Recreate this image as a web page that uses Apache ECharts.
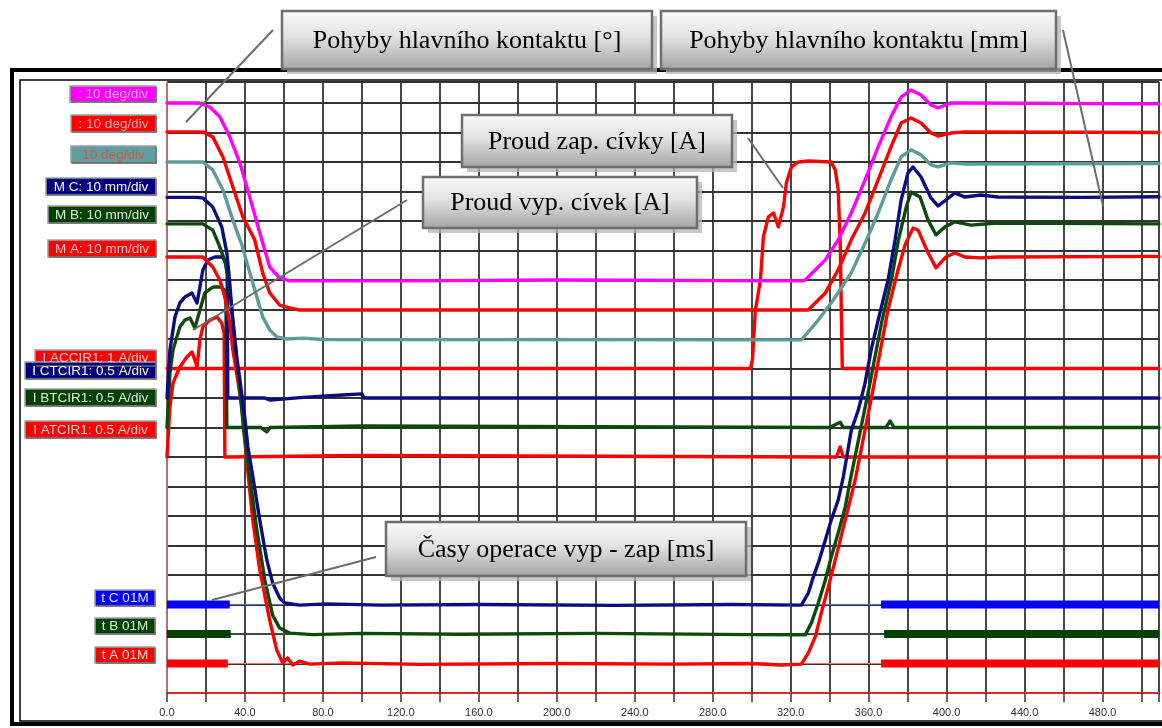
<!DOCTYPE html>
<html>
<head>
<meta charset="utf-8">
<script src="https://cdn.jsdelivr.net/npm/echarts@6/dist/echarts.min.js"></script>
<style>
html,body{margin:0;padding:0;background:#fff;}
#chart{width:1162px;height:728px;}
</style>
</head>
<body>
<div id="chart"></div>
<script>
// Breaker operation record: time in ms, every channel in screen divisions.

const timeLabels = [0, 40, 80, 120, 160, 200, 240, 280, 320, 360, 400, 440, 480];

// Main contact travel, angle channels (10 deg/div)
const angleMagenta = [[0,20.0],[16.9,20.0],[22,19.86],[27.1,19.53],[32.2,18.85],[37.4,17.97],[42.5,16.8],[47.6,15.6],[52.7,14.44],[57.8,14.07],[63,13.97],[120,13.97],[200,14.0],[326,13.97],[327.5,14.0],[337.8,14.68],[344.4,15.36],[351.1,16.27],[358.2,17.39],[364.9,18.51],[371.5,19.53],[376.7,20.2],[381.8,20.44],[386.9,20.27],[392,19.93],[395.6,19.83],[402.3,20.0],[409.4,20.0],[509,19.97]];
const angleRed = [[0,19.02],[18.4,19.02],[23.5,18.85],[28.7,18.17],[33.8,17.15],[38.9,16.14],[45,15.36],[49.1,14.24],[52.7,13.56],[57.8,13.15],[63,13.05],[68,12.98],[329,12.98],[337.8,13.56],[344.4,14.34],[351.1,15.36],[358.2,16.27],[364.9,17.39],[371.5,18.51],[376.7,19.32],[381.8,19.49],[386.9,19.32],[392,18.98],[395.6,18.88],[402.3,18.98],[409.4,19.02],[509,19.0]];
const angleTeal = [[0,18.0],[18.4,18.0],[23.5,17.73],[28.7,17.05],[33.8,16.03],[38.4,15.19],[42.5,14.24],[46.1,13.42],[49.1,12.75],[52.7,12.31],[56.3,12.07],[61.4,12.0],[70,12.03],[80,11.98],[325.5,11.97],[334.2,12.64],[341.9,13.32],[351.1,14.24],[358.2,15.25],[364.9,16.27],[371.5,17.39],[376.7,18.17],[381.8,18.41],[386.9,18.24],[392,17.9],[395.6,17.83],[402.3,17.97],[409.4,17.93],[509,17.95]];

// Main contact travel, stroke channels (10 mm/div)
const strokeC = [[0,16.8],[15.4,16.8],[18.4,16.78],[23.5,16.47],[28.1,15.8],[30.7,14.92],[32.2,13.9],[33.3,12.9],[35.8,11.39],[37.4,10.61],[39.9,9.36],[41.5,8.34],[43.5,7.56],[47.6,5.86],[51.2,4.51],[54.2,3.73],[57.8,3.22],[60.4,3.05],[68,2.98],[82,3.02],[110,2.98],[160,3.0],[230,2.97],[290,3.0],[325.5,2.98],[329.1,3.39],[331.6,3.93],[334.2,4.41],[337.8,5.19],[340.8,5.86],[344.4,6.54],[347,7.32],[351.1,8.9],[354.7,9.59],[358.2,10.51],[361.3,11.63],[364.9,12.64],[370,14.0],[373.6,15.36],[376.7,16.71],[380.2,17.63],[382.8,17.83],[386.9,17.49],[392,16.78],[395.6,16.51],[399.7,16.71],[404.3,16.95],[409.4,16.81],[417.6,16.88],[426.3,16.81],[470,16.8],[509,16.82]];
const strokeB = [[0,15.9],[18.4,15.9],[23.5,15.69],[27.1,15.12],[30.7,14.44],[32.8,13.32],[35.3,11.63],[37.4,10.27],[39.4,8.92],[42,7.56],[46.1,5.53],[50.2,3.83],[54.2,2.64],[57.8,2.2],[63,2.03],[75,1.98],[100,2.02],[150,1.99],[220,2.02],[300,1.98],[327.5,1.97],[330.6,2.37],[334.2,3.05],[337.8,3.83],[340.8,4.61],[344.4,5.42],[348,6.3],[350.6,7.22],[359.8,10.2],[366.8,12.6],[371.7,14.0],[375.3,15.36],[379.3,16.47],[381.8,16.98],[386.4,16.81],[390.5,16.03],[394.6,15.53],[399.2,15.8],[404.3,15.97],[412.5,15.86],[426.3,15.93],[509,15.9]];
const strokeA = [[0,14.78],[18.4,14.78],[23.5,14.44],[27.1,14.0],[29.7,13.42],[32.2,12.54],[33.8,11.63],[36.3,10.61],[38.4,9.69],[39.9,8.58],[41.5,7.49],[44,5.86],[47.6,4.17],[52.7,2.47],[56.3,1.46],[59.4,1.02],[61.9,1.19],[64.5,0.95],[68,1.08],[73.2,0.98],[90,1.02],[130,0.97],[200,1.0],[260,0.98],[300,1.0],[315,0.95],[325.5,0.98],[329.1,1.36],[332.6,1.9],[335.7,2.71],[339.3,3.59],[342.9,4.51],[348,5.86],[353.1,7.22],[362,10.2],[370,13.0],[375.1,14.34],[378.7,15.19],[382.8,15.76],[385.4,15.69],[390.5,14.92],[394.6,14.41],[399.7,14.78],[404.3,14.92],[409.4,14.78],[417.6,14.75],[426.3,14.78],[509,14.8]];

// Trip coil currents (0.5 A/div) and closing coil current (1 A/div)
const coilC = [[0,10.0],[1.5,11.63],[4.1,12.75],[6.6,13.22],[9.2,13.42],[12.8,13.56],[15.4,13.22],[16.9,13.76],[18.4,14.34],[21,14.68],[24.6,14.78],[28.1,14.78],[29.7,14.68],[30.9,14.2],[31.2,10.0],[50,10.0],[53,9.93],[70,10.02],[90,10.1],[100,10.14],[101,10.0],[200,10.0],[509,10.0]];
const coilB = [[0,9.0],[1.5,10.85],[3.1,11.63],[6.6,12.41],[9.2,12.64],[11.8,12.71],[14.3,12.37],[16.9,12.98],[19.4,13.56],[23.5,13.76],[28.1,13.76],[30.2,13.6],[30.7,9.0],[48,9.0],[51.2,8.85],[53,9.0],[100,9.05],[101,9.0],[340,9.0],[345.4,9.18],[347,9.0],[369,9.0],[371,9.22],[373,9.0],[509,9.0]];
const coilA = [[0,8.0],[1.5,9.69],[3.1,10.51],[6.6,11.05],[10.2,11.39],[12.8,11.56],[14.3,11.29],[15.4,11.05],[16.9,11.97],[18.4,12.41],[22,12.64],[25.6,12.75],[28.1,12.54],[29.3,12.2],[29.7,8.0],[100,8.05],[101,8.0],[343.5,8.0],[345.4,8.34],[347,8.0],[509,8.0]];
const closeCoil = [[0,11.0],[299.4,11.0],[300.4,11.3],[301.9,12.98],[302.5,13.2],[304.5,14.0],[306,15.46],[308.6,16.14],[311.2,16.27],[313.7,15.8],[316.3,16.47],[317.8,17.29],[320.4,17.83],[324,18.0],[329.1,18.03],[340.8,18.0],[342.9,17.73],[344.4,17.05],[345.5,15.12],[346,12.88],[346.5,11.0],[509,11.0]];

// Auxiliary timing contacts: level in div, closed intervals in ms
const timeCLevel = 3.0, timeCOn = [[0, 32.2], [366.4, 509]];
const timeBLevel = 2.0, timeBOn = [[0, 32.7], [368, 509]];
const timeALevel = 1.0, timeAOn = [[0, 31.2], [366.4, 509]];

const X_MAX = 509, Y_MAX = 20.71;
const TRACE_W = 3.4;

function trace(name, data, color, width) {
  return {
    type: 'line', name: name, data: data, showSymbol: false, symbol: 'none',
    lineStyle: { color: color, width: width, cap: 'round', join: 'round' },
    itemStyle: { color: color }, silent: true, animation: false
  };
}

function timing(name, level, spans, thinColor, color) {
  const list = [trace(name, [[0, level], [X_MAX, level]], thinColor, 1)];
  spans.forEach(function (s) {
    const t = trace(name, [[s[0], level], [s[1], level]], color, 8);
    t.lineStyle.cap = 'butt';
    list.push(t);
  });
  return list;
}

const series = []
  .concat(timing('t C 01M', timeCLevel, timeCOn, '#5a6cff', '#0000ff'))
  .concat(timing('t B 01M', timeBLevel, timeBOn, '#3d6b3d', '#004000'))
  .concat(timing('t A 01M', timeALevel, timeAOn, '#ff7070', '#ff0000'))
  .concat([
    trace('I ACCIR1', closeCoil, '#ff0000', TRACE_W),
    trace('I ATCIR1', coilA, '#ff0000', TRACE_W),
    trace('I BTCIR1', coilB, '#0b4a0b', TRACE_W),
    trace('I CTCIR1', coilC, '#0c0c80', TRACE_W),
    trace('M A', strokeA, '#ff0000', TRACE_W),
    trace('M B', strokeB, '#0b4a0b', TRACE_W),
    trace('M C', strokeC, '#0c0c80', TRACE_W),
    trace('deg teal', angleTeal, '#5c9c9a', TRACE_W),
    trace('deg red', angleRed, '#ff0000', TRACE_W),
    trace('deg magenta', angleMagenta, '#ff00ff', TRACE_W)
  ]);

// Channel tags on the left margin
const tags = [
  { x: 70, y: 86, w: 86, h: 16, fill: '#ff00ff', color: '#ffb4ff', text: ': 10 deg/div' },
  { x: 71, y: 115, w: 85, h: 17, fill: '#ff0000', color: '#ffa8a8', text: ': 10 deg/div' },
  { x: 71, y: 146, w: 85, h: 17, fill: '#5f9e9c', color: '#c85858', text: '10 deg/div' },
  { x: 46, y: 178, w: 110, h: 17, fill: '#000080', color: '#ffffd8', text: 'M C: 10 mm/div' },
  { x: 48, y: 206, w: 108, h: 17, fill: '#004000', color: '#dcecdc', text: 'M B: 10 mm/div' },
  { x: 48, y: 240, w: 108, h: 17, fill: '#ff0000', color: '#ffc8c8', text: 'M A: 10 mm/div' },
  { x: 35, y: 350, w: 121, h: 16, fill: '#ff0000', color: '#ffc8c8', text: 'I ACCIR1: 1 A/div' },
  { x: 25, y: 362, w: 131, h: 17, fill: '#000080', color: '#ffffd8', text: 'I CTCIR1: 0.5 A/div' },
  { x: 25, y: 389, w: 131, h: 17, fill: '#004000', color: '#e0f0e0', text: 'I BTCIR1: 0.5 A/div' },
  { x: 25, y: 421, w: 131, h: 17, fill: '#ff0000', color: '#ffd0d0', text: 'I ATCIR1: 0.5 A/div' },
  { x: 95, y: 590, w: 60, h: 16, fill: '#0000ff', color: '#e4e4ff', text: 't C 01M' },
  { x: 95, y: 618, w: 60, h: 16, fill: '#004000', color: '#e0f0e0', text: 't B 01M' },
  { x: 95, y: 647, w: 60, h: 16, fill: '#ff0000', color: '#ffe0e0', text: 't A 01M' }
];

// Callouts: box and leader line end points
const callouts = [
  { x: 282, y: 11, w: 370, h: 58, text: 'Pohyby hlavního kontaktu [°]', line: [273, 30, 186, 122] },
  { x: 661, y: 11, w: 395, h: 58, text: 'Pohyby hlavního kontaktu [mm]', line: [1063, 30, 1103, 206] },
  { x: 462, y: 115, w: 270, h: 52, text: 'Proud zap. cívky [A]', line: [748, 138, 783, 188] },
  { x: 423, y: 177, w: 274, h: 51, text: 'Proud vyp. cívek [A]', line: [407, 200, 193, 330] },
  { x: 386, y: 522, w: 360, h: 54, text: 'Časy operace vyp - zap [ms]', line: [376, 557, 212, 600] }
];

const graphics = [];
// double frame
graphics.push({ type: 'rect', z: 50, silent: true, shape: { x: 12, y: 70, width: 1170, height: 654 }, style: { fill: 'none', stroke: '#000', lineWidth: 4 } });
graphics.push({ type: 'rect', z: 50, silent: true, shape: { x: 20, y: 80, width: 1160, height: 641 }, style: { fill: 'none', stroke: '#000', lineWidth: 1.5 } });

tags.forEach(function (t) {
  graphics.push({ type: 'rect', z: 60, silent: true, shape: { x: t.x, y: t.y, width: t.w, height: t.h }, style: { fill: t.fill, stroke: '#a0a0a0', lineWidth: 1.5 } });
  graphics.push({ type: 'polyline', z: 61, silent: true, shape: { points: [[t.x + 1, t.y + t.h], [t.x + t.w, t.y + t.h], [t.x + t.w, t.y + 1]] }, style: { stroke: '#6a6a6a', lineWidth: 1.5, fill: null } });
  graphics.push({ type: 'text', z: 62, silent: true, x: t.x + t.w / 2, y: t.y + t.h / 2 + 0.5,
    style: { text: t.text, fill: t.color, font: '13.5px "Liberation Sans", Arial, sans-serif', align: 'center', verticalAlign: 'middle', textAlign: 'center', textVerticalAlign: 'middle' } });
});

callouts.forEach(function (c) {
  graphics.push({ type: 'line', z: 90, silent: true, shape: { x1: c.line[0], y1: c.line[1], x2: c.line[2], y2: c.line[3] }, style: { stroke: '#6c6c6c', lineWidth: 2 } });
  graphics.push({ type: 'rect', z: 91, silent: true, shape: { x: c.x + 5, y: c.y + 5, width: c.w, height: c.h }, style: { fill: '#b4b4b4', opacity: 0.75 } });
  graphics.push({ type: 'rect', z: 92, silent: true, shape: { x: c.x, y: c.y, width: c.w, height: c.h },
    style: { fill: { type: 'linear', x: 0, y: 0, x2: 0, y2: 1, colorStops: [{ offset: 0, color: '#fbfbfb' }, { offset: 0.45, color: '#e2e2e2' }, { offset: 1, color: '#a2a2a2' }] },
      stroke: '#6e6e6e', lineWidth: 2.5 } });
  graphics.push({ type: 'text', z: 93, silent: true, x: c.x + c.w / 2, y: c.y + c.h / 2 + 1,
    style: { text: c.text, fill: '#000', font: '26px "Liberation Serif", "Times New Roman", serif', align: 'center', verticalAlign: 'middle', textAlign: 'center', textVerticalAlign: 'middle' } });
});

const chart = echarts.init(document.getElementById('chart'), null, { renderer: 'canvas' });
chart.setOption({
  animation: false,
  backgroundColor: '#ffffff',
  grid: { left: 167, right: 0, top: 82, bottom: 35, containLabel: false },
  xAxis: {
    type: 'value', min: 0, max: X_MAX, interval: 20,
    axisLine: { show: true, onZero: false, lineStyle: { color: '#d42a2a', width: 2 } },
    axisTick: { show: true, length: 9, lineStyle: { color: '#333', width: 1.5 } },
    axisLabel: {
      margin: 14, color: '#333', fontSize: 11, fontFamily: '"Liberation Sans", Arial, sans-serif',
      showMinLabel: true,
      formatter: function (v) { return timeLabels.indexOf(v) >= 0 ? v.toFixed(1) : ''; }
    },
    splitLine: { show: true, lineStyle: { color: '#333333', width: 1.8 } }
  },
  yAxis: {
    type: 'value', min: 0, max: Y_MAX, interval: 1,
    axisLine: { show: true, onZero: false, lineStyle: { color: '#e07a7a', width: 1.5 } },
    axisTick: { show: false },
    axisLabel: { show: false },
    splitLine: { show: true, lineStyle: { color: '#333333', width: 1.8 } }
  },
  series: series,
  graphic: { elements: graphics }
});
</script>
</body>
</html>
